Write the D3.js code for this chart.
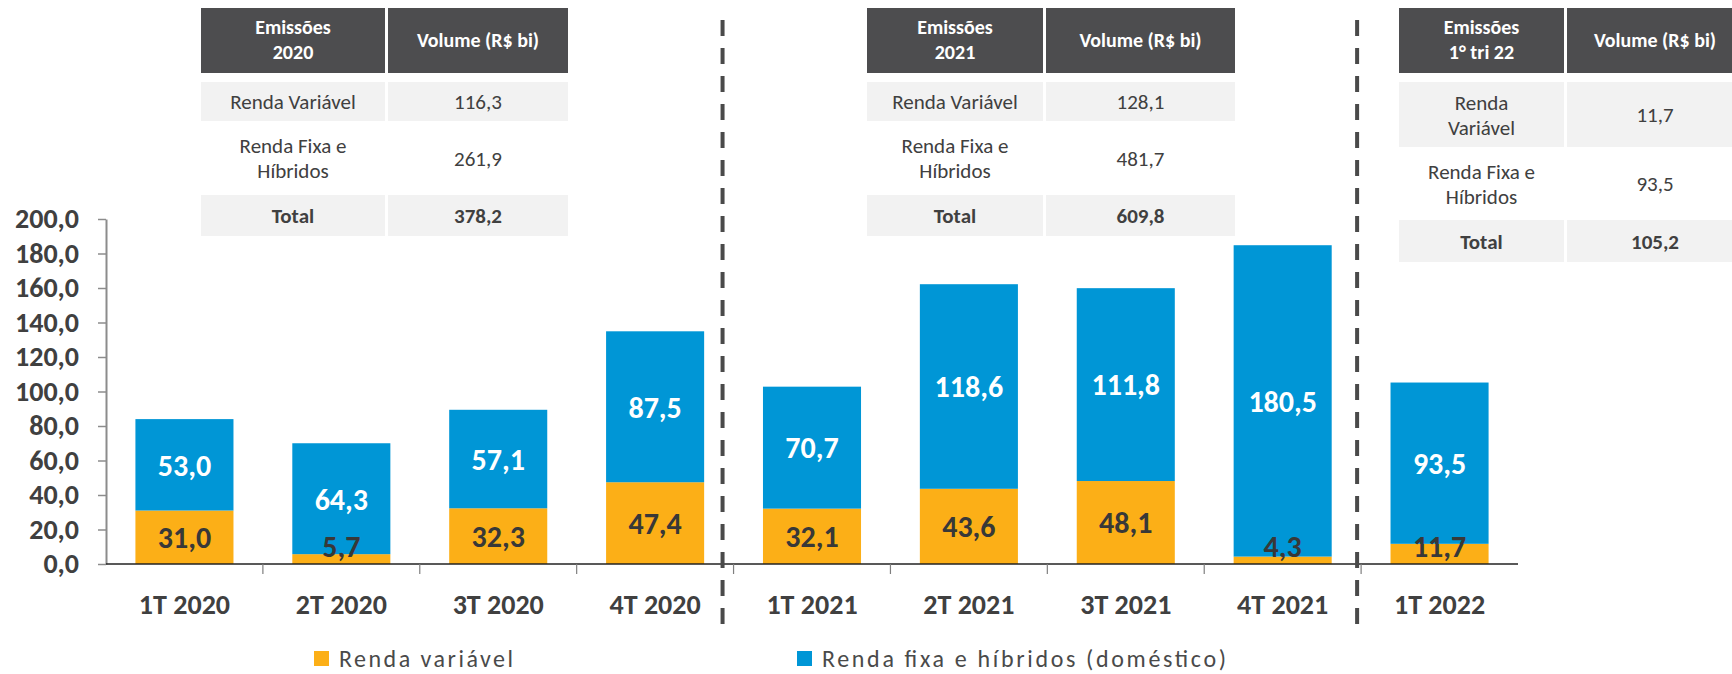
<!DOCTYPE html>
<html>
<head>
<meta charset="utf-8" />
<title>Emissões</title>
<style>
  body { margin: 0; background: #fff; }
  svg text { font-family: Carlito, Calibri, Lato, sans-serif; }
</style>
</head>
<body>
<div id="chart"></div>
<script src="https://d3js.org/d3.v7.min.js"></script>
<script>
// data
const categories = ["1T 2020", "2T 2020", "3T 2020", "4T 2020", "1T 2021", "2T 2021", "3T 2021", "4T 2021", "1T 2022"];
const rendaVariavel = [31.0, 5.7, 32.3, 47.4, 32.1, 43.6, 48.1, 4.3, 11.7];
const rendaFixa = [53.0, 64.3, 57.1, 87.5, 70.7, 118.6, 111.8, 180.5, 93.5];
const yTicks = [0, 20, 40, 60, 80, 100, 120, 140, 160, 180, 200];
const separatorsAfter = ["4T 2020", "4T 2021"];
const seriesNames = ["Renda variável", "Renda fixa e híbridos (doméstico)"];

const tableHeaders = [["Emissões", "2020"], ["Emissões", "2021"], ["Emissões", "1° tri 22"]];
const tableRVLabel = [["Renda Variável"], ["Renda Variável"], ["Renda", "Variável"]];
const tableRV = ["116,3", "128,1", "11,7"];
const tableRF = ["261,9", "481,7", "93,5"];
const tableTotal = ["378,2", "609,8", "105,2"];

const W = 1732, H = 674;
const colors = { rv: "#fcaf17", rf: "#0096d6", text: "#404040", head: "#4d4d4f", row: "#f2f2f2" };
const fmt = v => d3.format(".1f")(v).replace(".", ",");

const svg = d3.select("#chart").append("svg")
  .attr("width", W).attr("height", H);

const x = d3.scaleBand().domain(categories).range([106, 1518])
  .paddingInner(0.375).paddingOuter(0.1875);
const y = d3.scaleLinear().domain([0, 200]).range([564, 219]);

const rows = categories.map((c, i) => ({ cat: c, rv: rendaVariavel[i], rf: rendaFixa[i] }));
const stacked = d3.stack().keys(["rv", "rf"])(rows);

// bars
svg.append("g").selectAll("g")
  .data(stacked).join("g")
  .attr("fill", d => colors[d.key])
  .selectAll("rect")
  .data(d => d).join("rect")
  .attr("x", d => x(d.data.cat))
  .attr("y", d => y(d[1]))
  .attr("width", x.bandwidth())
  .attr("height", d => y(d[0]) - y(d[1]));

// value labels
stacked.forEach(s => {
  svg.append("g").selectAll("text")
    .data(s).join("text")
    .attr("x", d => x(d.data.cat) + x.bandwidth() / 2)
    .attr("y", d => Math.min((y(d[0]) + y(d[1])) / 2, y(0) - 18))
    .attr("dy", "0.36em")
    .attr("text-anchor", "middle")
    .attr("font-size", 30).attr("font-weight", "bold")
    .attr("fill", s.key == "rv" ? "#383838" : "#fff")
    .text(d => fmt(d.data[s.key]));
});

// y axis
const yAxis = svg.append("g")
  .attr("transform", `translate(${x.range()[0]},0)`)
  .call(d3.axisLeft(y).tickValues(yTicks).tickFormat(fmt).tickSize(8).tickSizeOuter(0).tickPadding(19));
yAxis.select(".domain").attr("stroke", "#8c8c8c").attr("stroke-width", 2);
yAxis.selectAll(".tick line").attr("stroke", "#8c8c8c").attr("stroke-width", 1.5);
yAxis.selectAll(".tick text")
  .attr("font-size", 28).attr("font-weight", "bold").attr("fill", colors.text)
  .style("font-family", "Carlito, Calibri, Lato, sans-serif");

// x axis
const step = x.step();
const x0 = x.range()[0];
svg.append("line")
  .attr("x1", x0).attr("x2", x.range()[1])
  .attr("y1", y(0)).attr("y2", y(0))
  .attr("stroke", "#222").attr("stroke-width", 1.5);
svg.append("g").selectAll("line")
  .data(d3.range(1, categories.length))
  .join("line")
  .attr("x1", k => x0 + k * step).attr("x2", k => x0 + k * step)
  .attr("y1", y(0)).attr("y2", y(0) + 10)
  .attr("stroke", "#7f7f7f").attr("stroke-width", 1.2);
svg.append("g").selectAll("text")
  .data(categories).join("text")
  .attr("x", d => x(d) + x.bandwidth() / 2)
  .attr("y", 614)
  .attr("text-anchor", "middle")
  .attr("font-size", 28).attr("font-weight", "bold").attr("fill", colors.text)
  .text(d => d);

// dashed separators
const sepOffset = [-11, -4];
svg.append("g").selectAll("line")
  .data(separatorsAfter).join("line")
  .attr("x1", (d, i) => x0 + (categories.indexOf(d) + 1) * step + sepOffset[i])
  .attr("x2", (d, i) => x0 + (categories.indexOf(d) + 1) * step + sepOffset[i])
  .attr("y1", 20).attr("y2", 627)
  .attr("stroke", "#4a4a4a").attr("stroke-width", 4)
  .attr("stroke-dasharray", "16,12");

// summary tables
const tableLayout = [
  { x: 201, c1: 184, c2: 180, rvH: 39, rfH: 74, totH: 41 },
  { x: 867, c1: 176, c2: 189, rvH: 39, rfH: 74, totH: 41 },
  { x: 1399, c1: 165, c2: 176, rvH: 65, rfH: 73, totH: 42 }
];

function cellText(g, cx, cy, lines, size, weight, fill) {
  const lh = 25;
  const t = g.append("text")
    .attr("text-anchor", "middle")
    .attr("font-size", size).attr("font-weight", weight).attr("fill", fill);
  lines.forEach((l, i) => {
    t.append("tspan")
      .attr("x", cx)
      .attr("y", cy + (i - (lines.length - 1) / 2) * lh)
      .attr("dy", "0.36em")
      .text(l);
  });
}

tableLayout.forEach((L, i) => {
  const g = svg.append("g");
  const gap = 3;
  const cx1 = L.x + L.c1 / 2, cx2 = L.x + L.c1 + gap + L.c2 / 2;
  // header
  const hy = 8, hh = 65;
  g.append("rect").attr("x", L.x).attr("y", hy).attr("width", L.c1).attr("height", hh).attr("fill", colors.head);
  g.append("rect").attr("x", L.x + L.c1 + gap).attr("y", hy).attr("width", L.c2).attr("height", hh).attr("fill", colors.head);
  cellText(g, cx1, hy + hh / 2 - 1, tableHeaders[i], 20, "bold", "#fff");
  cellText(g, cx2, hy + hh / 2 - 1, ["Volume (R$ bi)"], 20, "bold", "#fff");
  // renda variavel
  const ry = 82;
  g.append("rect").attr("x", L.x).attr("y", ry).attr("width", L.c1).attr("height", L.rvH).attr("fill", colors.row);
  g.append("rect").attr("x", L.x + L.c1 + gap).attr("y", ry).attr("width", L.c2).attr("height", L.rvH).attr("fill", colors.row);
  cellText(g, cx1, ry + L.rvH / 2, tableRVLabel[i], 21, "normal", colors.text);
  cellText(g, cx2, ry + L.rvH / 2, [tableRV[i]], 21, "normal", colors.text);
  // renda fixa
  const fy = ry + L.rvH;
  cellText(g, cx1, fy + L.rfH / 2, ["Renda Fixa e", "Híbridos"], 21, "normal", colors.text);
  cellText(g, cx2, fy + L.rfH / 2, [tableRF[i]], 21, "normal", colors.text);
  // total
  const ty = fy + L.rfH;
  g.append("rect").attr("x", L.x).attr("y", ty).attr("width", L.c1).attr("height", L.totH).attr("fill", colors.row);
  g.append("rect").attr("x", L.x + L.c1 + gap).attr("y", ty).attr("width", L.c2).attr("height", L.totH).attr("fill", colors.row);
  cellText(g, cx1, ty + L.totH / 2, ["Total"], 21, "bold", colors.text);
  cellText(g, cx2, ty + L.totH / 2, [tableTotal[i]], 21, "bold", colors.text);
});

// legend
const legend = [
  { name: seriesNames[0], color: colors.rv, x: 314, w: 174 },
  { name: seriesNames[1], color: colors.rf, x: 797, w: 404 }
];
const lg = svg.append("g").selectAll("g").data(legend).join("g")
  .attr("transform", d => `translate(${d.x},651)`);
lg.append("rect").attr("width", 15).attr("height", 15).attr("fill", d => d.color);
lg.append("text")
  .attr("x", 25).attr("y", 16)
  .attr("font-size", 24).attr("fill", "#4a4a4a")
  .attr("textLength", d => d.w).attr("lengthAdjust", "spacing")
  .text(d => d.name);
</script>
</body>
</html>
